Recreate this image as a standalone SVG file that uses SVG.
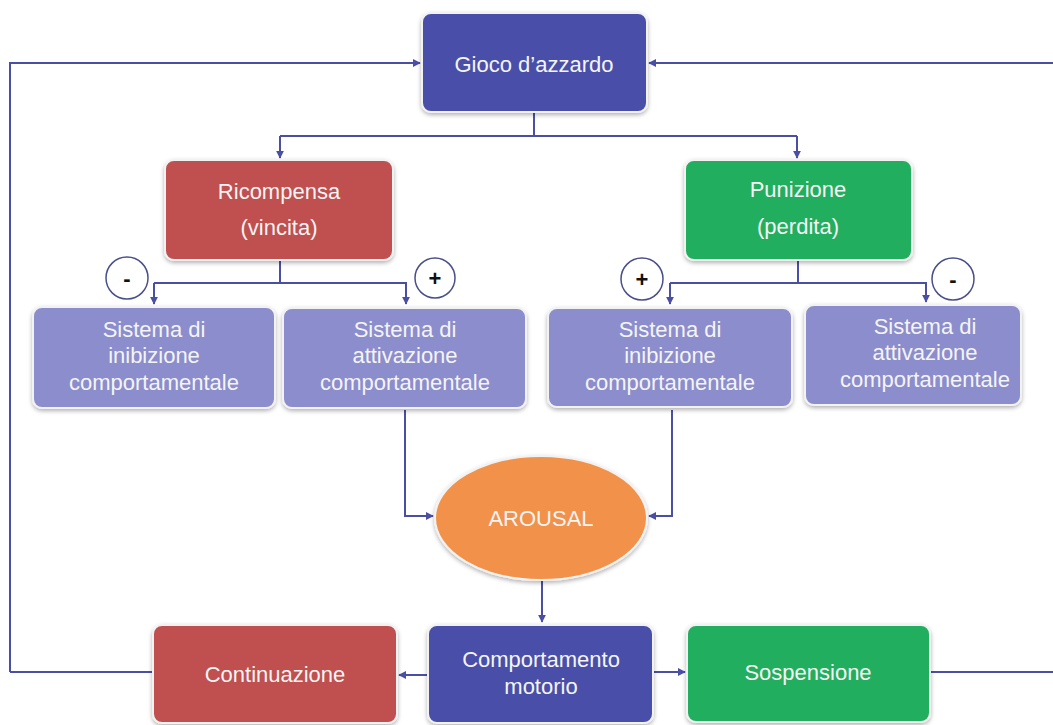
<svg xmlns="http://www.w3.org/2000/svg" width="1053" height="725" viewBox="0 0 1053 725">
<defs>
<filter id="sh" x="-10%" y="-10%" width="120%" height="130%">
<feDropShadow dx="0" dy="2" stdDeviation="2" flood-color="#000" flood-opacity="0.3"/>
</filter>
<marker id="ah" viewBox="0 0 10 10" refX="9" refY="5" markerWidth="4" markerHeight="4" orient="auto">
<path d="M0,0 L10,5 L0,10 z" fill="#4a4fa4"/>
</marker>
<style>
.box{stroke:#f2f2f2;stroke-width:2;filter:url(#sh)}
.blue{fill:#4a50a8}
.red{fill:#c0504f}
.green{fill:#21ae5e}
.purple{fill:#8c8dcc}
.orange{fill:#f29149}
.t{font-family:"Liberation Sans",Arial,sans-serif;font-size:22px;fill:#f4f4f4;text-anchor:middle}
.c{fill:#fff;stroke:#4a4f8a;stroke-width:1.5}
.s{font-family:"Liberation Sans",Arial,sans-serif;font-size:22px;font-weight:bold;fill:#111;text-anchor:middle}
.ln{fill:none;stroke:#4a4fa4;stroke-width:2}
.ar{marker-end:url(#ah)}
</style>
</defs>
<rect width="1053" height="725" fill="#fff"/>
<g id="connectors">
<path class="ln ar" d="M10,672 L10,63 L420,63"/>
<path class="ln ar" d="M1053,63 L649,63"/>
<path class="ln" d="M534,112 L534,136"/>
<path class="ln ar" d="M280,136 L797,136 M280,136 L280,158"/>
<path class="ln ar" d="M797,136 L797,158"/>
<path class="ln" d="M280,260 L280,283"/>
<path class="ln ar" d="M154,283 L154,304"/>
<path class="ln ar" d="M154,283 L406,283 L406,304"/>
<path class="ln" d="M798,260 L798,283"/>
<path class="ln ar" d="M670,283 L670,304"/>
<path class="ln ar" d="M670,283 L926,283 L926,302"/>
<path class="ln ar" d="M405,410 L405,516 L433,516"/>
<path class="ln ar" d="M672,410 L672,516 L649,516"/>
<path class="ln ar" d="M542,580 L542,622"/>
<path class="ln ar" d="M428,675 L399,675"/>
<path class="ln" d="M153,672 L10,672"/>
<path class="ln ar" d="M653,672 L685,672"/>
<path class="ln" d="M930,672 L1053,672"/>
</g>
<g id="gioco"><rect class="box blue" x="422" y="13" width="225" height="99" rx="9"/><text class="t" x="534" y="72">Gioco d’azzardo</text></g>
<g id="ricompensa"><rect class="box red" x="165" y="160" width="228" height="100" rx="9"/><text class="t" x="279" y="199">Ricompensa</text><text class="t" x="279" y="235">(vincita)</text></g>
<g id="punizione"><rect class="box green" x="685" y="160" width="227" height="100" rx="9"/><text class="t" x="798" y="197">Punizione</text><text class="t" x="798" y="234">(perdita)</text></g>
<g id="sign1"><circle class="c" cx="127" cy="278" r="21"/><text class="s" x="127" y="286">-</text></g>
<g id="sign2"><circle class="c" cx="435" cy="278" r="20"/><text class="s" x="435" y="286">+</text></g>
<g id="sign3"><circle class="c" cx="642" cy="279" r="21"/><text class="s" x="642" y="287">+</text></g>
<g id="sign4"><circle class="c" cx="953" cy="279" r="21"/><text class="s" x="953" y="287">-</text></g>
<g id="sib1"><rect class="box purple" x="33" y="307" width="242" height="101" rx="9"/><text class="t" x="154" y="337">Sistema  di</text><text class="t" x="154" y="363">inibizione</text><text class="t" x="154" y="390">comportamentale</text></g>
<g id="sas1"><rect class="box purple" x="283" y="308" width="243" height="100" rx="9"/><text class="t" x="405" y="337">Sistema  di</text><text class="t" x="405" y="363">attivazione</text><text class="t" x="405" y="390">comportamentale</text></g>
<g id="sib2"><rect class="box purple" x="548" y="308" width="244" height="99" rx="9"/><text class="t" x="670" y="337">Sistema  di</text><text class="t" x="670" y="363">inibizione</text><text class="t" x="670" y="390">comportamentale</text></g>
<g id="sas2"><rect class="box purple" x="805" y="305" width="216" height="100" rx="9"/><text class="t" x="925" y="334">Sistema  di</text><text class="t" x="925" y="360">attivazione</text><text class="t" x="925" y="387">comportamentale</text></g>
<g id="arousal"><ellipse class="box orange" cx="541" cy="518" rx="106" ry="62"/><text class="t" x="541" y="526">AROUSAL</text></g>
<g id="continuazione"><rect class="box red" x="153" y="625" width="244" height="98" rx="9"/><text class="t" x="275" y="682">Continuazione</text></g>
<g id="comportamento"><rect class="box blue" x="428" y="625" width="225" height="98" rx="9"/><text class="t" x="541" y="667">Comportamento</text><text class="t" x="541" y="694">motorio</text></g>
<g id="sospensione"><rect class="box green" x="687" y="625" width="243" height="97" rx="9"/><text class="t" x="808" y="680">Sospensione</text></g>
</svg>
